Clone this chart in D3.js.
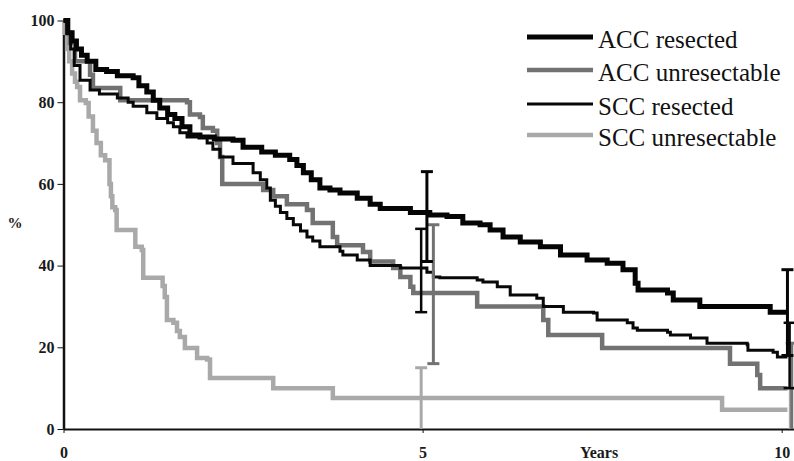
<!DOCTYPE html>
<html>
<head>
<meta charset="utf-8">
<script src="https://cdn.jsdelivr.net/npm/d3@7"></script>
<style>
  body { margin: 0; background: #fff; }
  text { font-family: "Liberation Serif", "Times New Roman", serif; }
  .axis text { font-weight: bold; fill: #1a1a1a; }
  .axis path, .axis line { stroke: #111; }
</style>
</head>
<body>
<script>
// survival steps: [years, percent] (value holds from that time on)
var accResected = [[0,100],[0.06,97],[0.12,95],[0.18,93],[0.25,91.5],[0.33,90],[0.45,88],[0.6,87.5],[0.75,86.5],[0.97,86],[1.05,84],[1.16,82.5],[1.25,80.5],[1.34,78.6],[1.45,77],[1.55,76],[1.65,74],[1.76,72],[1.9,71.5],[2.1,71],[2.36,70.7],[2.5,69],[2.76,67.8],[2.95,67],[3.15,66],[3.25,64.5],[3.34,62.7],[3.45,61],[3.57,59],[3.71,58.5],[3.85,57.8],[4.09,56.5],[4.27,55],[4.41,54],[4.83,53],[5.1,52.4],[5.34,52],[5.56,50.4],[5.8,50],[5.94,48.7],[6.12,47],[6.36,45.8],[6.64,44.6],[6.92,42.6],[7.29,41.4],[7.57,40.6],[7.79,39],[7.96,35.7],[8.0,34],[8.41,33.3],[8.49,31.6],[8.86,30],[9.84,28.6],[10.08,28.6]]
var accUnresectable = [[0,100],[0.05,97],[0.09,94.5],[0.16,90],[0.33,90],[0.37,86.7],[0.41,83.5],[0.79,80.5],[1.72,80],[1.76,77],[1.9,76.4],[1.94,73.7],[2.08,73],[2.14,70],[2.18,66.6],[2.21,60],[2.78,58.5],[2.92,57],[3.11,55],[3.39,53.6],[3.47,50.4],[3.75,47],[3.81,45],[4.17,43.3],[4.27,41],[4.59,39.4],[4.69,37.2],[4.83,34.8],[4.87,33.3],[5.76,30],[6.68,26.7],[6.75,23],[7.5,19.8],[9.28,16],[9.66,13.2],[9.7,10],[10.08,10]]
var sccResected = [[0,100],[0.05,97],[0.1,93],[0.15,89],[0.23,85.4],[0.37,83],[0.5,82],[0.75,81],[0.9,80],[0.97,79],[1.16,77.4],[1.3,76],[1.45,75],[1.53,74],[1.62,72.5],[1.72,71.5],[2.0,70],[2.08,68.5],[2.18,66.6],[2.36,65],[2.64,62.7],[2.74,61],[2.83,59],[2.88,56],[2.95,54.5],[3.02,53],[3.11,51.5],[3.2,50],[3.3,48.5],[3.39,47],[3.47,46],[3.57,44.6],[3.85,43.5],[3.89,42.6],[4.09,41.4],[4.27,40],[4.69,39.4],[5.06,38.4],[5.15,37.2],[5.24,37],[5.76,36.5],[5.84,36],[6.04,34.8],[6.22,32.8],[6.59,32],[6.68,30],[6.96,28.6],[7.38,28.4],[7.43,26.7],[7.85,26],[7.93,24.7],[7.99,24.2],[8.41,23.7],[8.45,23],[8.73,22.3],[8.96,21],[9.52,20.6],[9.53,19.3],[9.88,18.8],[9.94,17.6],[10.08,17.6]]
var sccUnresectable = [[0,100],[0.02,97],[0.05,93],[0.08,90],[0.12,87],[0.16,85],[0.19,83.7],[0.23,80.5],[0.31,79.8],[0.35,76.5],[0.41,73],[0.46,70],[0.52,67],[0.58,65.8],[0.64,60],[0.66,57],[0.68,54.3],[0.72,53.6],[0.74,48.7],[1.0,44.6],[1.09,43.8],[1.11,37],[1.38,35],[1.41,32.3],[1.44,26.7],[1.53,26],[1.58,24],[1.62,22.5],[1.69,19.8],[1.86,17.4],[2.0,17],[2.04,12.5],[2.92,10],[3.75,7.6],[9.17,4.7],[10.08,4.7]]

// confidence bars: [years, low, high]
var accResectedCI = [[5.06,41,63],[10.08,18,39]]
var accUnresectableCI = [[5.15,16,50],[10.14,0,21]]
var sccResectedCI = [[4.98,28.6,49],[10.11,10,26]]
var sccUnresectableCI = [[4.98,0,15],[10.12,0,10]]

var seriesNames = ["ACC resected", "ACC unresectable", "SCC resected", "SCC unresectable"]
var xTicks = [0, 5, 10]
var yTicks = [0, 20, 40, 60, 80, 100]

var w = 794
var h = 461

var svg = d3.select("body")
    .append("svg")
    .attr("width", w)
    .attr("height", h)

var x = d3.scaleLinear().domain([0, 10]).range([63.5, 781.7])
var y = d3.scaleLinear().domain([0, 100]).range([429, 20.5])

// series styling
var series = [
    { name: seriesNames[0], data: accResected, ci: accResectedCI, color: "#050505", width: 5 },
    { name: seriesNames[1], data: accUnresectable, ci: accUnresectableCI, color: "#727272", width: 4.5 },
    { name: seriesNames[2], data: sccResected, ci: sccResectedCI, color: "#080808", width: 3 },
    { name: seriesNames[3], data: sccUnresectable, ci: sccUnresectableCI, color: "#a9a9a9", width: 4.5 }
]

// axes
var xAxisScale = x.copy().domain([0, 10.25]).range([x(0), x(10.25)])
svg.append("g")
    .attr("class", "axis")
    .attr("transform", "translate(0," + y(0) + ")")
    .call(d3.axisBottom(xAxisScale).tickValues(xTicks).tickFormat(d3.format("d")).tickSize(4).tickSizeOuter(0).tickPadding(14))
    .call(function(g) {
        g.attr("font-family", null)
        g.select(".domain").attr("stroke-width", 2)
        g.selectAll("text").attr("font-size", 16)
    })

svg.append("g")
    .attr("class", "axis")
    .attr("transform", "translate(" + x(0) + ",0)")
    .call(d3.axisLeft(y).tickValues(yTicks).tickSize(6).tickSizeOuter(0).tickPadding(3))
    .call(function(g) {
        g.attr("font-family", null)
        g.select(".domain").attr("stroke-width", 2.5)
        g.selectAll("text").attr("font-size", 16)
    })

svg.append("text")
    .text("%")
    .attr("x", 15)
    .attr("y", 228)
    .attr("text-anchor", "middle")
    .attr("font-size", 15)
    .attr("font-weight", "bold")
    .attr("fill", "#1a1a1a")

svg.append("text")
    .text("Years")
    .attr("x", 599)
    .attr("y", 458)
    .attr("text-anchor", "middle")
    .attr("font-size", 16)
    .attr("font-weight", "bold")
    .attr("fill", "#1a1a1a")

// survival curves
var line = d3.line()
    .x(function(d) { return x(d[0]) })
    .y(function(d) { return y(d[1]) })
    .curve(d3.curveStepAfter)

var drawOrder = [3, 1, 0, 2]
drawOrder.forEach(function(i) {
    var s = series[i]
    svg.append("path")
        .datum(s.data)
        .attr("d", line)
        .attr("fill", "none")
        .attr("stroke", s.color)
        .attr("stroke-width", s.width)
})

// error bars
drawOrder.forEach(function(i) {
    var s = series[i]
    var g = svg.append("g")
        .attr("stroke", s.color)
        .attr("stroke-width", i == 2 ? 2.5 : 3)
    g.selectAll("line.v")
        .data(s.ci)
        .enter()
        .append("line")
        .attr("x1", function(d) { return x(d[0]) })
        .attr("x2", function(d) { return x(d[0]) })
        .attr("y1", function(d) { return y(d[1]) })
        .attr("y2", function(d) { return y(d[2]) })
    g.selectAll("line.hi")
        .data(s.ci)
        .enter()
        .append("line")
        .attr("x1", function(d) { return x(d[0]) - 6 })
        .attr("x2", function(d) { return x(d[0]) + 6 })
        .attr("y1", function(d) { return y(d[2]) })
        .attr("y2", function(d) { return y(d[2]) })
    g.selectAll("line.lo")
        .data(s.ci.filter(function(d) { return d[1] > 0 }))
        .enter()
        .append("line")
        .attr("x1", function(d) { return x(d[0]) - 6 })
        .attr("x2", function(d) { return x(d[0]) + 6 })
        .attr("y1", function(d) { return y(d[1]) })
        .attr("y2", function(d) { return y(d[1]) })
})

// legend
var legend = svg.append("g")
    .attr("transform", "translate(527, 37)")

var rowY = [0, 33, 67, 98]
series.forEach(function(s, i) {
    legend.append("line")
        .attr("x1", 0)
        .attr("x2", 66)
        .attr("y1", rowY[i])
        .attr("y2", rowY[i])
        .attr("stroke", s.color)
        .attr("stroke-width", s.width)
    legend.append("text")
        .text(s.name)
        .attr("x", 71)
        .attr("y", rowY[i] + 11)
        .attr("font-size", 25)
        .attr("fill", "#111")
})
</script>
</body>
</html>
